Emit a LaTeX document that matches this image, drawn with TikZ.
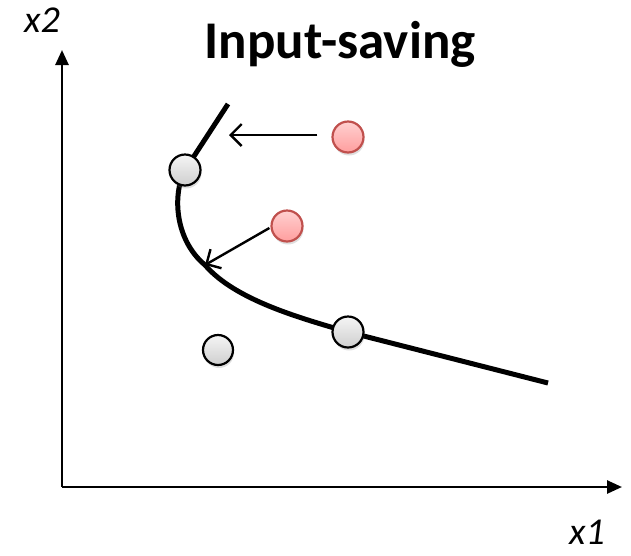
\documentclass[tikz,border=0pt]{standalone}
\usepackage{fontspec}
\setmainfont{Carlito}
\usetikzlibrary{arrows.meta,shadows}
\definecolor{redborder}{HTML}{C0504D}
\definecolor{redtop}{HTML}{FFD0D0}
\definecolor{redbot}{HTML}{FF9E9E}
\tikzset{
  axis/.style={line width=2.6pt,-{Triangle[length=15pt,width=13pt]}},
  frontier/.style={line width=5pt},
  move/.style={line width=2.4pt,-{Straight Barb[length=11pt,width=22pt,line width=2.4pt]}},
  graydot/.style={circle,minimum size=31pt,inner sep=0pt,draw=black,line width=2.2pt,top color=gray!8,bottom color=gray!38,drop shadow={shadow xshift=1pt,shadow yshift=-3pt,opacity=0.25}},
  reddot/.style={circle,minimum size=31pt,inner sep=0pt,draw=redborder,line width=2.2pt,top color=redtop,bottom color=redbot,drop shadow={shadow xshift=1pt,shadow yshift=-3pt,opacity=0.25}},
  lab/.style={inner sep=0pt,font=\itshape\fontsize{38}{44}\selectfont}
}
\begin{document}
\begin{tikzpicture}[x=1pt,y=-1pt]
\useasboundingbox (0,0) rectangle (631,555);
\coordinate (o) at (62,487);
\coordinate (ytip) at (62,50);
\coordinate (xtip) at (622,487);
\draw[axis] (o) -- (ytip);
\draw[axis] (o) -- (xtip);
\node[lab] (x2) at (42,20) {x2};
\node[lab] (x1) at (587,532) {x1};
\node[font=\bfseries\fontsize{53}{60}\selectfont] (title) at (340,44) {Input-saving};
\coordinate (c0) at (228,104);
\coordinate (c1) at (185,170);
\coordinate (c2) at (205,265);
\coordinate (c3) at (348,332);
\coordinate (c4) at (548,383);
\draw[frontier] (c0) -- (c1) .. controls (172,195) and (175,240) .. (c2)
  .. controls (235,300) and (300,318) .. (c3) -- (c4);
\node[graydot] (g1) at (c1) {};
\node[graydot] (g2) at (c3) {};
\node[graydot,minimum size=30pt] (g3) at (218,350) {};
\node[reddot] (r1) at (348,137) {};
\node[reddot] (r2) at (287,226) {};
\coordinate (t1) at (229,135);
\draw[move] (r1.west) ++(-14,-2) -- (t1);
\draw[move] (r2.west) ++(-1,2) -- (c2);
\end{tikzpicture}
\end{document}
